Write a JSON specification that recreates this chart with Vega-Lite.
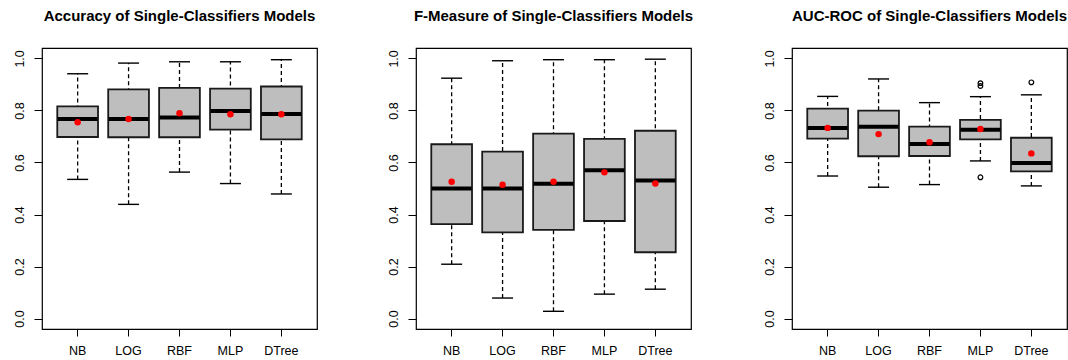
{
  "$schema": "https://vega.github.io/schema/vega-lite/v6.json",
  "background": "white",
  "padding": {"left": 12, "top": 8, "right": 5, "bottom": 0},
  "spacing": 68,
  "config": {
    "font": "Liberation Sans",
    "view": {"stroke": "black", "strokeWidth": 1.2},
    "title": {"font": "Liberation Sans", "fontSize": 15, "fontWeight": "bold", "color": "black", "anchor": "middle", "offset": 24},
    "axis": {"labelFont": "Liberation Sans", "labelFontSize": 12.5, "labelColor": "black", "tickColor": "black", "tickWidth": 1, "domain": false, "grid": false, "title": null},
    "tick": {"opacity": 1}
  },
  "datasets": {
    "acc": [
      {"model": "NB", "lo": 0.535, "q1": 0.698, "med": 0.767, "q3": 0.816, "hi": 0.941, "mean": 0.755},
      {"model": "LOG", "lo": 0.439, "q1": 0.697, "med": 0.767, "q3": 0.881, "hi": 0.982, "mean": 0.767},
      {"model": "RBF", "lo": 0.563, "q1": 0.697, "med": 0.773, "q3": 0.887, "hi": 0.987, "mean": 0.789},
      {"model": "MLP", "lo": 0.519, "q1": 0.726, "med": 0.798, "q3": 0.884, "hi": 0.987, "mean": 0.785},
      {"model": "DTree", "lo": 0.479, "q1": 0.689, "med": 0.786, "q3": 0.892, "hi": 0.995, "mean": 0.785}
    ],
    "fm": [
      {"model": "NB", "lo": 0.209, "q1": 0.363, "med": 0.5, "q3": 0.67, "hi": 0.924, "mean": 0.526},
      {"model": "LOG", "lo": 0.079, "q1": 0.331, "med": 0.5, "q3": 0.642, "hi": 0.991, "mean": 0.514},
      {"model": "RBF", "lo": 0.028, "q1": 0.341, "med": 0.518, "q3": 0.711, "hi": 0.995, "mean": 0.526},
      {"model": "MLP", "lo": 0.094, "q1": 0.375, "med": 0.57, "q3": 0.691, "hi": 0.995, "mean": 0.562},
      {"model": "DTree", "lo": 0.113, "q1": 0.255, "med": 0.531, "q3": 0.722, "hi": 0.997, "mean": 0.519}
    ],
    "auc": [
      {"model": "NB", "lo": 0.548, "q1": 0.692, "med": 0.733, "q3": 0.807, "hi": 0.854, "mean": 0.733},
      {"model": "LOG", "lo": 0.505, "q1": 0.624, "med": 0.737, "q3": 0.799, "hi": 0.921, "mean": 0.709},
      {"model": "RBF", "lo": 0.515, "q1": 0.625, "med": 0.671, "q3": 0.738, "hi": 0.83, "mean": 0.678},
      {"model": "MLP", "lo": 0.606, "q1": 0.689, "med": 0.726, "q3": 0.764, "hi": 0.853, "mean": 0.729},
      {"model": "DTree", "lo": 0.51, "q1": 0.566, "med": 0.598, "q3": 0.695, "hi": 0.86, "mean": 0.635}
    ],
    "aucOut": [
      {"model": "MLP", "v": 0.905},
      {"model": "MLP", "v": 0.894},
      {"model": "MLP", "v": 0.543},
      {"model": "DTree", "v": 0.908}
    ]
  },
  "hconcat": [
    {
      "title": "Accuracy of Single-Classifiers Models",
      "width": 275, "height": 281,
      "data": {"name": "acc"},
      "encoding": {
        "x": {"field": "model", "type": "nominal", "sort": ["NB", "LOG", "RBF", "MLP", "DTree"],
              "scale": {"paddingInner": 0, "paddingOuter": 0.2},
              "axis": {"labelAngle": 0, "tickSize": 7, "labelPadding": 8, "tickBand": "center"}}
      },
      "layer": [
        {"mark": {"type": "rule", "strokeDash": [4, 3], "strokeWidth": 1.3, "color": "black"},
         "encoding": {"y": {"field": "lo", "type": "quantitative", "scale": {"domain": [-0.04, 1.04], "nice": false, "zero": false},
                            "axis": {"values": [0, 0.2, 0.4, 0.6, 0.8, 1.0], "format": ".1f", "labelAngle": -90, "labelAlign": "center", "labelBaseline": "bottom", "tickSize": 8, "labelPadding": 8}},
                      "y2": {"field": "hi"}}},
        {"mark": {"type": "bar", "fill": "#bebebe", "stroke": "#1a1a1a", "strokeWidth": 1.8, "width": {"band": 0.8}},
         "encoding": {"y": {"field": "q1", "type": "quantitative"}, "y2": {"field": "q3"}}},
        {"mark": {"type": "tick", "color": "black", "size": 21, "thickness": 1.4, "opacity": 1},
         "encoding": {"y": {"field": "lo", "type": "quantitative"}}},
        {"mark": {"type": "tick", "color": "black", "size": 21, "thickness": 1.4, "opacity": 1},
         "encoding": {"y": {"field": "hi", "type": "quantitative"}}},
        {"mark": {"type": "tick", "color": "black", "size": 40, "thickness": 4, "opacity": 1},
         "encoding": {"y": {"field": "med", "type": "quantitative"}}},
        {"mark": {"type": "point", "filled": true, "color": "#ff0000", "size": 42, "opacity": 1},
         "encoding": {"y": {"field": "mean", "type": "quantitative"}}}
      ]
    },
    {
      "title": "F-Measure of Single-Classifiers Models",
      "width": 275, "height": 281,
      "data": {"name": "fm"},
      "encoding": {
        "x": {"field": "model", "type": "nominal", "sort": ["NB", "LOG", "RBF", "MLP", "DTree"],
              "scale": {"paddingInner": 0, "paddingOuter": 0.2},
              "axis": {"labelAngle": 0, "tickSize": 7, "labelPadding": 8, "tickBand": "center"}}
      },
      "layer": [
        {"mark": {"type": "rule", "strokeDash": [4, 3], "strokeWidth": 1.3, "color": "black"},
         "encoding": {"y": {"field": "lo", "type": "quantitative", "scale": {"domain": [-0.04, 1.04], "nice": false, "zero": false},
                            "axis": {"values": [0, 0.2, 0.4, 0.6, 0.8, 1.0], "format": ".1f", "labelAngle": -90, "labelAlign": "center", "labelBaseline": "bottom", "tickSize": 8, "labelPadding": 8}},
                      "y2": {"field": "hi"}}},
        {"mark": {"type": "bar", "fill": "#bebebe", "stroke": "#1a1a1a", "strokeWidth": 1.8, "width": {"band": 0.8}},
         "encoding": {"y": {"field": "q1", "type": "quantitative"}, "y2": {"field": "q3"}}},
        {"mark": {"type": "tick", "color": "black", "size": 21, "thickness": 1.4, "opacity": 1},
         "encoding": {"y": {"field": "lo", "type": "quantitative"}}},
        {"mark": {"type": "tick", "color": "black", "size": 21, "thickness": 1.4, "opacity": 1},
         "encoding": {"y": {"field": "hi", "type": "quantitative"}}},
        {"mark": {"type": "tick", "color": "black", "size": 40, "thickness": 4, "opacity": 1},
         "encoding": {"y": {"field": "med", "type": "quantitative"}}},
        {"mark": {"type": "point", "filled": true, "color": "#ff0000", "size": 42, "opacity": 1},
         "encoding": {"y": {"field": "mean", "type": "quantitative"}}}
      ]
    },
    {
      "title": "AUC-ROC of Single-Classifiers Models",
      "width": 275, "height": 281,
      "encoding": {
        "x": {"field": "model", "type": "nominal", "sort": ["NB", "LOG", "RBF", "MLP", "DTree"],
              "scale": {"domain": ["NB", "LOG", "RBF", "MLP", "DTree"], "paddingInner": 0, "paddingOuter": 0.2},
              "axis": {"labelAngle": 0, "tickSize": 7, "labelPadding": 8, "tickBand": "center"}}
      },
      "layer": [
        {"data": {"name": "auc"},
         "mark": {"type": "rule", "strokeDash": [4, 3], "strokeWidth": 1.3, "color": "black"},
         "encoding": {"y": {"field": "lo", "type": "quantitative", "scale": {"domain": [-0.04, 1.04], "nice": false, "zero": false},
                            "axis": {"values": [0, 0.2, 0.4, 0.6, 0.8, 1.0], "format": ".1f", "labelAngle": -90, "labelAlign": "center", "labelBaseline": "bottom", "tickSize": 8, "labelPadding": 8}},
                      "y2": {"field": "hi"}}},
        {"data": {"name": "auc"},
         "mark": {"type": "bar", "fill": "#bebebe", "stroke": "#1a1a1a", "strokeWidth": 1.8, "width": {"band": 0.8}},
         "encoding": {"y": {"field": "q1", "type": "quantitative"}, "y2": {"field": "q3"}}},
        {"data": {"name": "auc"},
         "mark": {"type": "tick", "color": "black", "size": 21, "thickness": 1.4, "opacity": 1},
         "encoding": {"y": {"field": "lo", "type": "quantitative"}}},
        {"data": {"name": "auc"},
         "mark": {"type": "tick", "color": "black", "size": 21, "thickness": 1.4, "opacity": 1},
         "encoding": {"y": {"field": "hi", "type": "quantitative"}}},
        {"data": {"name": "auc"},
         "mark": {"type": "tick", "color": "black", "size": 40, "thickness": 4, "opacity": 1},
         "encoding": {"y": {"field": "med", "type": "quantitative"}}},
        {"data": {"name": "auc"},
         "mark": {"type": "point", "filled": true, "color": "#ff0000", "size": 42, "opacity": 1},
         "encoding": {"y": {"field": "mean", "type": "quantitative"}}},
        {"data": {"name": "aucOut"},
         "mark": {"type": "point", "filled": false, "color": "black", "strokeWidth": 1.2, "size": 22, "opacity": 1},
         "encoding": {"y": {"field": "v", "type": "quantitative"}}}
      ]
    }
  ]
}
